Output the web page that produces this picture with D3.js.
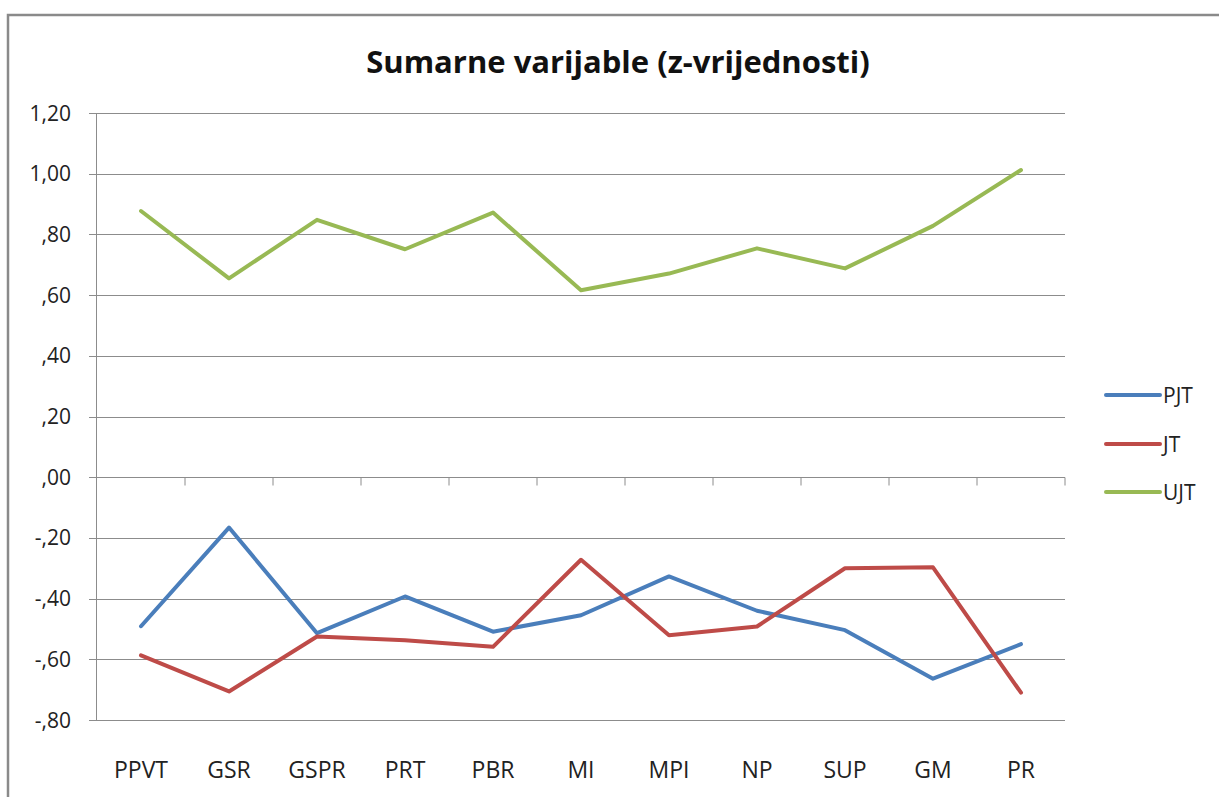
<!DOCTYPE html>
<html>
<head>
<meta charset="utf-8">
<script src="https://cdn.jsdelivr.net/npm/d3@7"></script>
<style>
	body { margin: 0; background: #fff; }
	svg { display: block; font-family: "Open Sans", "Noto Sans", sans-serif; }
</style>
</head>
<body>
<svg id="chart"></svg>
<script>
// chart data
let categories = ['PPVT', 'GSR', 'GSPR', 'PRT', 'PBR', 'MI', 'MPI', 'NP', 'SUP', 'GM', 'PR'];
let pjt = [-0.491, -0.166, -0.514, -0.393, -0.509, -0.455, -0.327, -0.440, -0.504, -0.664, -0.550];
let jt = [-0.587, -0.706, -0.525, -0.537, -0.559, -0.272, -0.521, -0.492, -0.300, -0.297, -0.710];
let ujt = [0.877, 0.655, 0.848, 0.751, 0.872, 0.616, 0.671, 0.754, 0.688, 0.828, 1.012];
let seriesNames = ['PJT', 'JT', 'UJT'];
let seriesColors = ['#4a7ebb', '#be4b48', '#98b954'];
let yTicks = [1.2, 1.0, 0.8, 0.6, 0.4, 0.2, 0, -0.2, -0.4, -0.6, -0.8];

let width = 1219;
let height = 797;
let plot = { left: 97, right: 1065, top: 113, bottom: 720 };

let svg = d3.select('#chart')
	.attr('width', width)
	.attr('height', height);

// outer chart border (cut by the window on right/bottom)
svg.append('path')
	.attr('d', 'M8,' + (height + 5) + ' V15 H' + (width + 5))
	.attr('fill', 'none')
	.attr('stroke', '#8a8a8a')
	.attr('stroke-width', 2.5);

let x = d3.scaleBand().domain(categories).range([plot.left, plot.right]);
let y = d3.scaleLinear().domain([-0.8, 1.2]).range([plot.bottom, plot.top]);

function fmt(v) {
	// 1,20 / ,80 / -,40 style
	let s = Math.abs(v).toFixed(2).replace('.', ',');
	if (Math.abs(v) < 1) s = s.slice(1);
	return (v < 0 ? '-' : '') + s;
}

// grid lines
svg.append('g')
	.selectAll('line')
	.data(yTicks)
	.enter()
	.append('line')
	.attr('x1', plot.left - 8)
	.attr('x2', plot.right)
	.attr('y1', d => Math.round(y(d)) + 0.5)
	.attr('y2', d => Math.round(y(d)) + 0.5)
	.attr('stroke', '#8c8c8c')
	.attr('stroke-width', 1);

// y axis line
svg.append('line')
	.attr('x1', plot.left - 0.5).attr('x2', plot.left - 0.5)
	.attr('y1', plot.top).attr('y2', plot.bottom)
	.attr('stroke', '#8c8c8c');

// y labels
svg.append('g')
	.selectAll('text')
	.data(yTicks)
	.enter()
	.append('text')
	.attr('x', 71)
	.attr('y', d => y(d))
	.attr('dy', '0.36em')
	.attr('text-anchor', 'end')
	.attr('font-size', 21)
	.attr('fill', '#222')
	.text(fmt);

// x axis ticks at zero line
let zeroY = Math.round(y(0)) + 0.5;
svg.append('g')
	.selectAll('line')
	.data(categories)
	.enter()
	.append('line')
	.attr('x1', d => x(d) + x.bandwidth())
	.attr('x2', d => x(d) + x.bandwidth())
	.attr('y1', zeroY)
	.attr('y2', zeroY + 8)
	.attr('stroke', '#8c8c8c');

// category labels
svg.append('g')
	.selectAll('text')
	.data(categories)
	.enter()
	.append('text')
	.attr('x', d => x(d) + x.bandwidth() / 2)
	.attr('y', 778)
	.attr('text-anchor', 'middle')
	.attr('font-size', 23)
	.attr('fill', '#222')
	.text(d => d);

// series lines
let allSeries = [pjt, jt, ujt];
let line = d3.line()
	.x((d, i) => x(categories[i]) + x.bandwidth() / 2)
	.y(d => y(d));

svg.append('g')
	.selectAll('path')
	.data(allSeries)
	.enter()
	.append('path')
	.attr('d', d => line(d))
	.attr('fill', 'none')
	.attr('stroke', (d, i) => seriesColors[i])
	.attr('stroke-width', 4)
	.attr('stroke-linecap', 'round')
	.attr('stroke-linejoin', 'round');

// legend
let legendY = [395, 444, 492];
let legend = svg.append('g')
	.selectAll('g')
	.data(seriesNames)
	.enter()
	.append('g')
	.attr('transform', (d, i) => 'translate(1106,' + legendY[i] + ')');

legend.append('line')
	.attr('x1', 0).attr('x2', 54)
	.attr('stroke', (d, i) => seriesColors[i])
	.attr('stroke-width', 4)
	.attr('stroke-linecap', 'round');

legend.append('text')
	.attr('x', 57)
	.attr('dy', '0.36em')
	.attr('font-size', 21)
	.attr('fill', '#222')
	.text(d => d);

// title
svg.append('text')
	.attr('x', 618)
	.attr('y', 73)
	.attr('text-anchor', 'middle')
	.attr('font-size', 31)
	.attr('font-weight', 'bold')
	.attr('fill', '#111')
	.text('Sumarne varijable (z-vrijednosti)');
</script>
</body>
</html>
